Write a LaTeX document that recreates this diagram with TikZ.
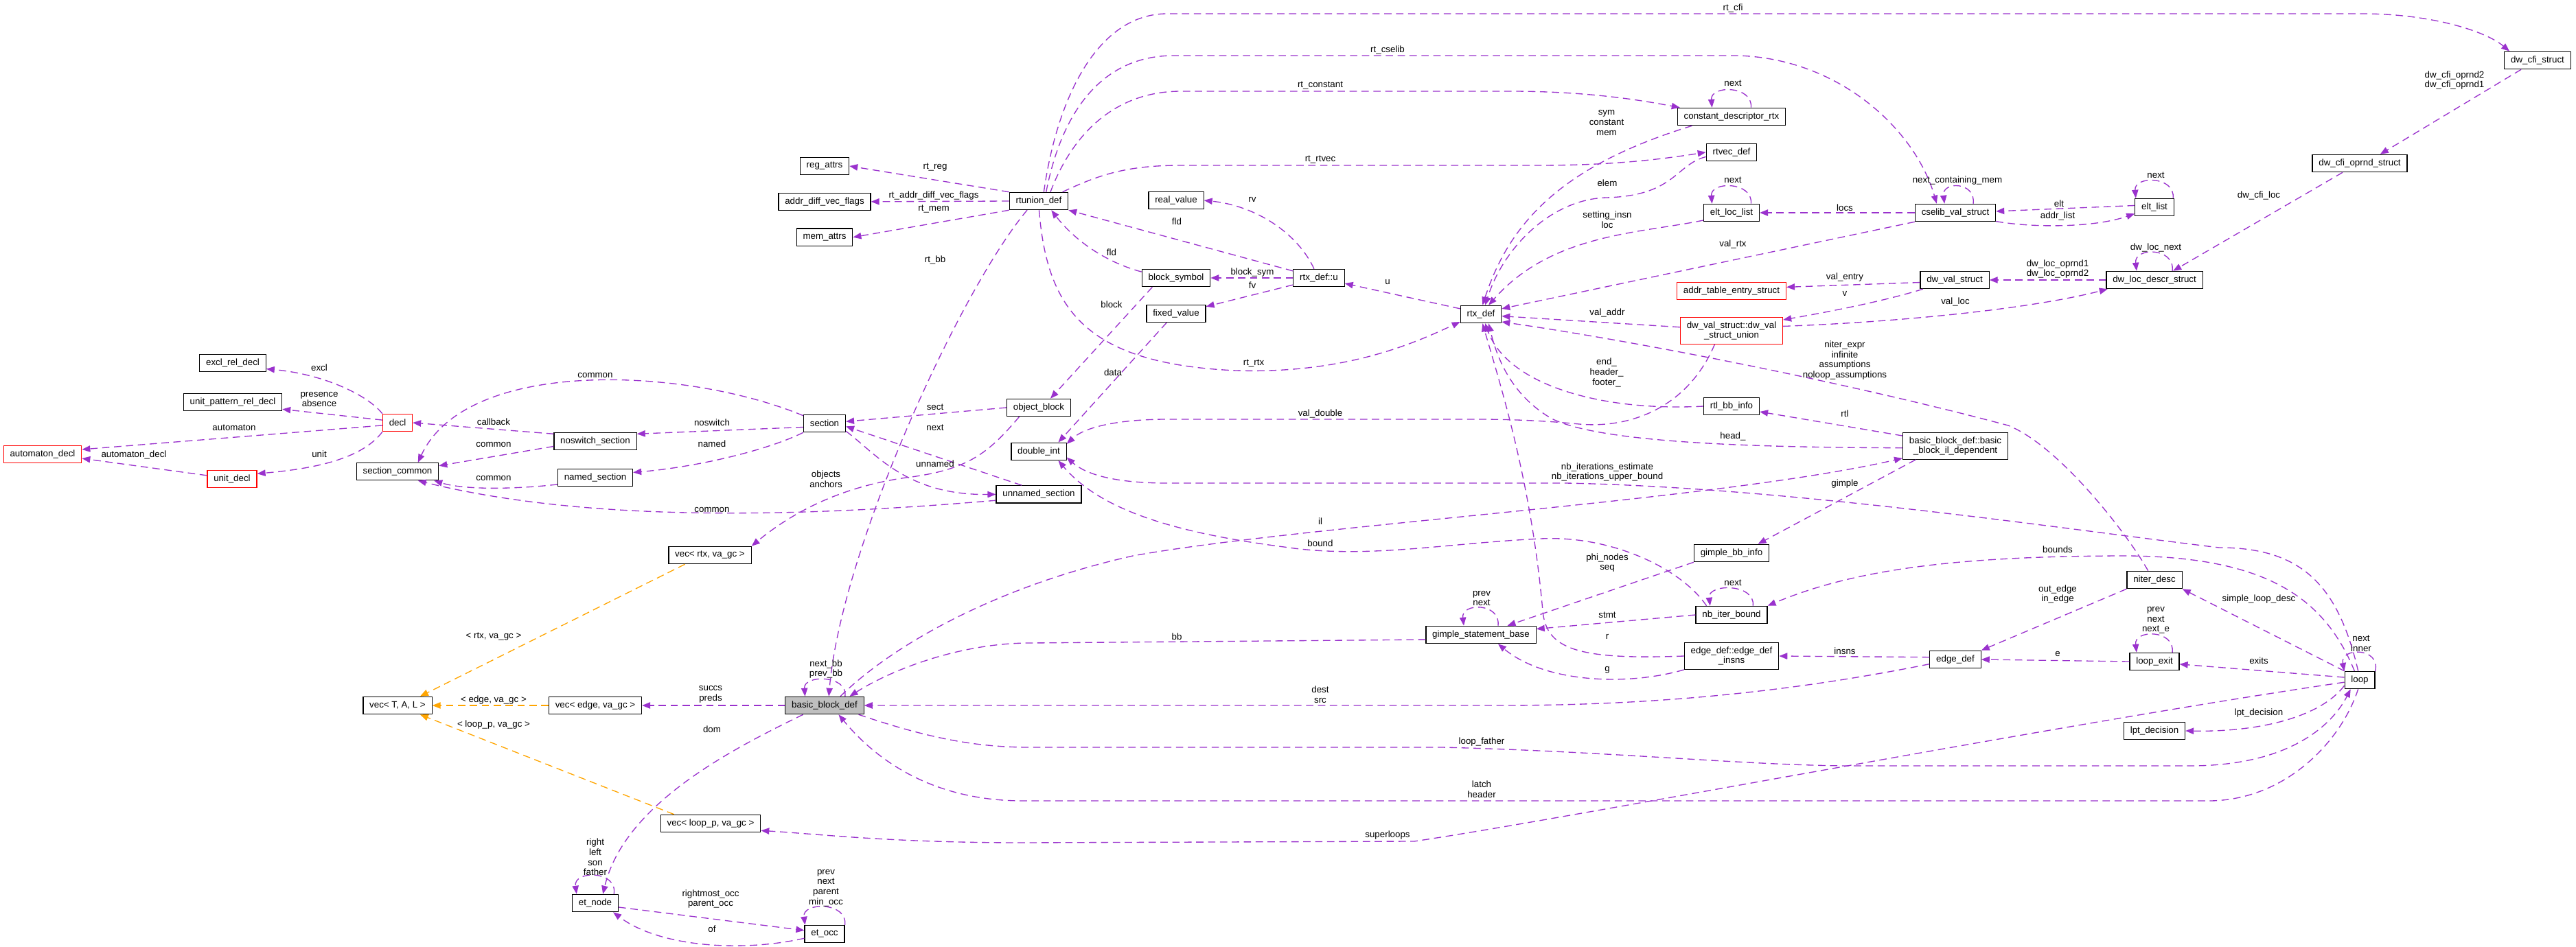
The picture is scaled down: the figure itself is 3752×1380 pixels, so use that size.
\documentclass[tikz,border=0pt]{standalone}
\usepackage{fontspec}
\setmainfont{Liberation Sans}
\usetikzlibrary{positioning,arrows.meta}
\definecolor{relpurple}{HTML}{9A32CD}
\definecolor{tplorange}{HTML}{FFA500}

\begin{document}
\begin{tikzpicture}[x=0.75pt, y=-0.75pt, font=\fontsize{10}{11}\selectfont, cls/.style={draw, line width=0.9pt, fill=white, minimum height=19pt, inner xsep=7pt, inner ysep=2pt}, clsred/.style={cls, draw=red}, clsfocus/.style={cls, fill=black!25}, cls2/.style={cls, align=center, minimum height=29pt}, rel/.style={draw=relpurple, line width=1pt, dash pattern=on 8pt off 5pt, -{Triangle[length=9pt,width=7pt]}}, tpl/.style={rel, draw=tplorange}, lbl/.style={align=center, inner sep=0pt}]
\useasboundingbox (0,0) rectangle (3752,1380);
\node[clsred] (automaton_decl) at (62,662) {automaton\_decl};
\node[cls] (excl_rel_decl) at (339,529) {excl\_rel\_decl};
\node[cls, below=23pt of excl_rel_decl] (unit_pattern_rel_decl) {unit\_pattern\_rel\_decl};
\node[clsred] (unit_decl) at (338,698) {unit\_decl};
\node[clsred] (decl) at (579,616) {decl};
\node[cls, below=33.5pt of decl] (section_common) {section\_common};
\node[cls] (vec_tal) at (579,1028) {vec< T, A, L >};
\node[cls] (noswitch_section) at (867,643) {noswitch\_section};
\node[cls, below=20pt of noswitch_section] (named_section) {named\_section};
\node[cls] (vec_edge) at (867,1028) {vec< edge, va\_gc >};
\node[cls] (et_node) at (867,1316) {et\_node};
\node[cls] (vec_rtx) at (1034,809) {vec< rtx, va\_gc >};
\node[cls] (vec_loop) at (1035,1200) {vec< loop\_p, va\_gc >};
\node[cls] (reg_attrs) at (1201,242) {reg\_attrs};
\node[cls, below=19pt of reg_attrs] (addr_diff_vec_flags) {addr\_diff\_vec\_flags};
\node[cls, below=19pt of addr_diff_vec_flags] (mem_attrs) {mem\_attrs};
\node[cls] (section) at (1201,617) {section};
\node[clsfocus] (basic_block_def) at (1201,1028) {basic\_block\_def};
\node[cls] (et_occ) at (1201,1361) {et\_occ};
\node[cls] (rtunion_def) at (1513,293) {rtunion\_def};
\node[cls] (object_block) at (1513,594) {object\_block};
\node[cls, below=28pt of object_block] (double_int) {double\_int};
\node[cls, below=27pt of double_int] (unnamed_section) {unnamed\_section};
\node[cls] (real_value) at (1713,292) {real\_value};
\node[cls] (block_symbol) at (1713,405) {block\_symbol};
\node[cls, below=19pt of block_symbol] (fixed_value) {fixed\_value};
\node[cls] (rtx_def_u) at (1921,405) {rtx\_def::u};
\node[cls] (rtx_def) at (2157,458) {rtx\_def};
\node[cls] (gimple_statement_base) at (2157,925) {gimple\_statement\_base};
\node[cls] (constant_descriptor_rtx) at (2522,170) {constant\_descriptor\_rtx};
\node[cls, below=19pt of constant_descriptor_rtx] (rtvec_def) {rtvec\_def};
\node[cls] (elt_loc_list) at (2522,310) {elt\_loc\_list};
\node[clsred] (addr_table_entry_struct) at (2522,424) {addr\_table\_entry\_struct};
\node[cls2, draw=red] (dw_val_union) at (2522,482) {dw\_val\_struct::dw\_val\\\_struct\_union};
\node[cls] (rtl_bb_info) at (2522,592) {rtl\_bb\_info};
\node[cls] (gimple_bb_info) at (2522,806) {gimple\_bb\_info};
\node[cls] (nb_iter_bound) at (2522,896) {nb\_iter\_bound};
\node[cls2] (edge_insns) at (2522,956) {edge\_def::edge\_def\\\_insns};
\node[cls] (cselib_val_struct) at (2848,310) {cselib\_val\_struct};
\node[cls] (dw_val_struct) at (2847,408) {dw\_val\_struct};
\node[cls2] (il_dep) at (2848,650) {basic\_block\_def::basic\\\_block\_il\_dependent};
\node[cls] (edge_def) at (2848,961) {edge\_def};
\node[cls] (elt_list) at (3138,302) {elt\_list};
\node[cls] (dw_loc_descr_struct) at (3138,408) {dw\_loc\_descr\_struct};
\node[cls] (niter_desc) at (3138,845) {niter\_desc};
\node[cls] (loop_exit) at (3138,964) {loop\_exit};
\node[cls] (lpt_decision) at (3138,1065) {lpt\_decision};
\node[cls] (dw_cfi_oprnd_struct) at (3437,238) {dw\_cfi\_oprnd\_struct};
\node[cls] (loop) at (3437,991) {loop};
\node[cls] (dw_cfi_struct) at (3696,88) {dw\_cfi\_struct};
\draw[rel] (rtunion_def.north west) -- (reg_attrs.east);
\draw[rel] (rtunion_def.west) -- (addr_diff_vec_flags.east);
\draw[rel] (rtunion_def.south west) -- (mem_attrs.east);
\draw[rel] (rtunion_def.-142) .. controls (1400,420) and (1225,800) .. (basic_block_def.65);
\draw[rel] (rtunion_def.-88) .. controls (1525,450) and (1580,530) .. (1800,540) .. controls (1960,545) and (2060,500) .. (rtx_def.-160);
\draw[rel] (rtunion_def.61) .. controls (1540,140) and (1600,20) .. (1700,20) -- (3440,20) .. controls (3540,20) and (3620,45) .. (dw_cfi_struct.162);
\draw[rel] (rtunion_def.51) .. controls (1545,170) and (1600,81) .. (1710,81) -- (2530,81) .. controls (2680,85) and (2790,190) .. (cselib_val_struct.154);
\draw[rel] (rtunion_def.38) .. controls (1560,200) and (1620,133) .. (1720,133) -- (2200,133) .. controls (2320,133) and (2400,148) .. (constant_descriptor_rtx.170);
\draw[rel] (rtunion_def.21) .. controls (1600,255) and (1640,241) .. (1720,241) -- (2240,241) .. controls (2350,241) and (2420,232) .. (rtvec_def.west);
\draw[rel] (rtx_def_u.118) .. controls (1890,340) and (1830,300) .. (real_value.east);
\draw[rel] (rtx_def_u.165) -- (rtunion_def.south east);
\draw[rel] (rtx_def_u.west) -- (block_symbol.east);
\draw[rel] (rtx_def_u.-165) -- (fixed_value.13);
\draw[rel] (block_symbol.170) .. controls (1610,382) and (1565,350) .. (rtunion_def.-36);
\draw[rel] (block_symbol.-159) -- (object_block.38);
\draw[rel] (fixed_value.-136) -- (double_int.25);
\draw[rel] (object_block.west) -- (section.5);
\draw[rel] (unnamed_section.152) -- (section.-8);
\draw[rel] (section.-20) .. controls (1275,660) and (1320,722) .. (unnamed_section.west);
\draw[rel] (object_block.-155) .. controls (1440,660) and (1410,685) .. (1320,696) .. controls (1220,710) and (1150,750) .. (vec_rtx.north east);
\draw[rel] (section.160) .. controls (1000,535) and (680,520) .. (section_common.24);
\draw[rel] (section.-170) -- (noswitch_section.10);
\draw[rel] (section.south west) .. controls (1120,655) and (1020,680) .. (named_section.8);
\draw[rel] (noswitch_section.170) -- (decl.east);
\draw[rel] (noswitch_section.-173) -- (section_common.8);
\draw[rel] (named_section.-170) .. controls (760,712) and (680,715) .. (section_common.-14);
\draw[rel] (unnamed_section.-172) .. controls (1150,755) and (850,760) .. (section_common.-24);
\draw[rel] (decl.north west) .. controls (535,575) and (470,545) .. (excl_rel_decl.-10);
\draw[rel] (decl.170) -- (unit_pattern_rel_decl.-8);
\draw[rel] (decl.-170) -- (automaton_decl.7);
\draw[rel] (unit_decl.172) -- (automaton_decl.-6);
\draw[rel] (decl.-149) .. controls (530,665) and (470,682) .. (unit_decl.12);
\draw[tpl] (vec_rtx.-160) -- (vec_tal.22);
\draw[tpl] (vec_edge.west) -- (vec_tal.east);
\draw[tpl] (vec_loop.166) -- (vec_tal.-22);
\draw[rel] (basic_block_def.west) -- (vec_edge.east);
\draw[rel] (basic_block_def.-157) .. controls (1070,1090) and (910,1170) .. (et_node.50);
\draw[rel] (et_node.-10) -- (et_occ.170);
\draw[rel] (et_occ.-168) .. controls (1080,1388) and (960,1380) .. (et_node.-27);
\draw[rel] (basic_block_def.24) .. controls (1235,983) and (1170,983) .. (basic_block_def.155);
\draw[rel] (et_node.26) .. controls (900,1268) and (835,1268) .. (et_node.154);
\draw[rel] (et_occ.24) .. controls (1235,1314) and (1168,1314) .. (et_occ.155);
\draw[rel] (constant_descriptor_rtx.25) .. controls (2553,124) and (2491,124) .. (constant_descriptor_rtx.155);
\draw[rel] (elt_loc_list.25) .. controls (2553,264) and (2491,264) .. (elt_loc_list.155);
\draw[rel] (cselib_val_struct.27) .. controls (2878,264) and (2828,264) .. (cselib_val_struct.140);
\draw[rel] (elt_list.26) .. controls (3168,256) and (3108,256) .. (elt_list.154);
\draw[rel] (dw_loc_descr_struct.27) .. controls (3168,360) and (3108,360) .. (dw_loc_descr_struct.153);
\draw[rel] (nb_iter_bound.23) .. controls (2557,850) and (2487,850) .. (nb_iter_bound.157);
\draw[rel] (gimple_statement_base.28) .. controls (2186,878) and (2128,878) .. (gimple_statement_base.152);
\draw[rel] (loop_exit.27) .. controls (3168,917) and (3108,917) .. (loop_exit.153);
\draw[rel] (loop.30) .. controls (3468,943) and (3408,943) .. (loop.150);
\draw[rel] (basic_block_def.30) .. controls (1300,940) and (1450,855) .. (1650,810) .. controls (1900,765) and (2500,730) .. (il_dep.-167);
\draw[rel] (gimple_statement_base.-175) -- (1500,937) .. controls (1400,937) and (1300,975) .. (basic_block_def.20);
\draw[rel] (basic_block_def.-15) .. controls (1350,1075) and (1420,1089) .. (1500,1089) -- (2100,1089) .. controls (2350,1095) and (2550,1116) .. (2700,1116) -- (3190,1116) .. controls (3330,1116) and (3395,1060) .. (loop.-135);
\draw[rel] (loop.-100) .. controls (3410,1080) and (3330,1165) .. (3220,1167) -- (1490,1167) .. controls (1350,1167) and (1270,1100) .. (basic_block_def.-33);
\draw[rel] (edge_def.-170) .. controls (2600,1010) and (2400,1028) .. (2184,1028) -- (basic_block_def.east);
\draw[rel] (loop.-172) .. controls (3000,1055) and (2300,1190) .. (2060,1226) -- (1490,1228) .. controls (1300,1228) and (1200,1216) .. (vec_loop.-8);
\draw[rel] (gimple_bb_info.south west) -- (gimple_statement_base.19);
\draw[rel] (nb_iter_bound.west) -- (gimple_statement_base.6);
\draw[rel] (nb_iter_bound.160) .. controls (2450,830) and (2350,780) .. (2244,785) .. controls (2100,792) and (1990,815) .. (1870,797) .. controls (1700,775) and (1600,740) .. (double_int.-25);
\draw[rel] (edge_insns.west) .. controls (2295,962) and (2252,945) .. (2247,890) .. controls (2230,700) and (2185,560) .. (rtx_def.-80);
\draw[rel] (edge_insns.south west) .. controls (2370,1000) and (2250,995) .. (gimple_statement_base.-28);
\draw[rel] (edge_def.175) -- (edge_insns.east);
\draw[rel] (dw_val_union.176) -- (rtx_def.-5);
\draw[rel] (dw_val_union.-141) .. controls (2460,590) and (2380,625) .. (2300,618) .. controls (2250,613) and (2200,611) .. (2150,611) -- (1700,611) .. controls (1630,611) and (1580,622) .. (double_int.15);
\draw[rel] (dw_val_union.5) .. controls (2750,470) and (2950,452) .. (dw_loc_descr_struct.-169);
\draw[rel] (dw_val_struct.-164) .. controls (2740,440) and (2660,455) .. (dw_val_union.12);
\draw[rel] (dw_val_struct.-176) -- (addr_table_entry_struct.4);
\draw[rel] (dw_loc_descr_struct.west) -- (dw_val_struct.east);
\draw[rel] (cselib_val_struct.west) -- (elt_loc_list.east);
\draw[rel] (cselib_val_struct.south west) -- (rtx_def.15);
\draw[rel] (elt_list.175) -- (cselib_val_struct.2);
\draw[rel] (cselib_val_struct.-12) .. controls (2960,332) and (3050,332) .. (elt_list.-162);
\draw[rel] (constant_descriptor_rtx.-167) .. controls (2280,240) and (2200,320) .. (rtx_def.80);
\draw[rel] (rtvec_def.-170) .. controls (2440,240) and (2440,285) .. (2340,288) .. controls (2260,290) and (2190,360) .. (rtx_def.65);
\draw[rel] (elt_loc_list.-165) .. controls (2390,340) and (2260,340) .. (rtx_def.50);
\draw[rel] (rtx_def.165) -- (rtx_def_u.-12);
\draw[rel] (il_dep.169) -- (rtl_bb_info.-11);
\draw[rel] (il_dep.-178) .. controls (2550,652) and (2330,645) .. (2260,610) .. controls (2200,575) and (2180,520) .. (rtx_def.-50);
\draw[rel] (rtl_bb_info.west) .. controls (2330,600) and (2195,560) .. (rtx_def.-65);
\draw[rel] (il_dep.-161) -- (gimple_bb_info.19);
\draw[rel] (niter_desc.125) .. controls (3100,780) and (3000,650) .. (2925,620) .. controls (2700,560) and (2400,500) .. (rtx_def.-20);
\draw[rel] (loop.north west) -- (niter_desc.south east);
\draw[rel] (loop.120) .. controls (3385,870) and (3300,812) .. (3100,810) .. controls (2850,810) and (2700,830) .. (nb_iter_bound.north east);
\draw[rel] (loop.100) .. controls (3405,850) and (3350,798) .. (3232,798) .. controls (3000,770) and (2600,710) .. (2280,704) -- (1700,704) .. controls (1620,704) and (1580,690) .. (double_int.-12);
\draw[rel] (niter_desc.south west) -- (edge_def.north east);
\draw[rel] (loop_exit.west) -- (edge_def.east);
\draw[rel] (loop.170) -- (loop_exit.-6);
\draw[rel] (loop.-160) .. controls (3380,1045) and (3290,1067) .. (lpt_decision.east);
\draw[rel] (dw_cfi_struct.-151) -- (dw_cfi_oprnd_struct.24);
\draw[rel] (dw_cfi_oprnd_struct.-152) -- (dw_loc_descr_struct.26);
\node[lbl] (l_rt_cfi) at (2524,12) {rt\_cfi};
\node[lbl] (l_rt_cselib) at (2021,73) {rt\_cselib};
\node[lbl] (l_rt_constant) at (1923,125) {rt\_constant};
\node[lbl] (l_cdr_next) at (2524,121) {next};
\node[lbl] (l_sym) at (2340,179) {sym\\constant\\mem};
\node[lbl] (l_rt_reg) at (1362,244) {rt\_reg};
\node[lbl] (l_rt_rtvec) at (1923,233) {rt\_rtvec};
\node[lbl] (l_rt_adv) at (1360,285) {rt\_addr\_diff\_vec\_flags};
\node[lbl] (l_rt_mem) at (1360,305) {rt\_mem};
\node[lbl] (l_elt_loc_next) at (2524,262) {next};
\node[lbl] (l_elem) at (2341,267) {elem};
\node[lbl] (l_ncm) at (2851,263) {next\_containing\_mem};
\node[lbl] (l_elt_list_next) at (3140,255) {next};
\node[lbl] (l_elt) at (2999,297) {elt};
\node[lbl] (l_addr_list) at (2997,315) {addr\_list};
\node[lbl] (l_locs) at (2687,303) {locs};
\node[lbl] (l_setting) at (2341,320) {setting\_insn\\loc};
\node[lbl] (l_cfi_oprnd) at (3575,117) {dw\_cfi\_oprnd2\\dw\_cfi\_oprnd1};
\node[lbl] (l_cfi_loc) at (3290,285) {dw\_cfi\_loc};
\node[lbl] (l_rv) at (1824,291) {rv};
\node[lbl] (l_fld_u) at (1714,323) {fld};
\node[lbl] (l_fld_bs) at (1619,368) {fld};
\node[lbl] (l_val_rtx) at (2524,356) {val\_rtx};
\node[lbl] (l_dw_loc_next) at (3140,361) {dw\_loc\_next};
\node[lbl] (l_rt_bb) at (1362,379) {rt\_bb};
\node[lbl] (l_loc_oprnd) at (2997,392) {dw\_loc\_oprnd1\\dw\_loc\_oprnd2};
\node[lbl] (l_block_sym) at (1824,397) {block\_sym};
\node[lbl] (l_val_entry) at (2687,404) {val\_entry};
\node[lbl] (l_u) at (2021,411) {u};
\node[lbl] (l_fv) at (1824,416) {fv};
\node[lbl] (l_v) at (2687,428) {v};
\node[lbl] (l_val_loc) at (2848,440) {val\_loc};
\node[lbl] (l_block) at (1619,444) {block};
\node[lbl] (l_val_addr) at (2341,456) {val\_addr};
\node[lbl] (l_niter) at (2687,525) {niter\_expr\\infinite\\assumptions\\noloop\_assumptions};
\node[lbl] (l_rt_rtx) at (1826,530) {rt\_rtx};
\node[lbl] (l_excl) at (465,536) {excl};
\node[lbl] (l_end) at (2340,543) {end\_\\header\_\\footer\_};
\node[lbl] (l_data) at (1621,543) {data};
\node[lbl] (l_common_sec) at (867,547) {common};
\node[lbl] (l_presence) at (465,582) {presence\\absence};
\node[lbl] (l_sect) at (1362,593) {sect};
\node[lbl] (l_val_double) at (1923,603) {val\_double};
\node[lbl] (l_rtl) at (2687,603) {rtl};
\node[lbl] (l_callback) at (719,615) {callback};
\node[lbl] (l_noswitch) at (1037,616) {noswitch};
\node[lbl] (l_automaton) at (341,623) {automaton};
\node[lbl] (l_next_sec) at (1362,623) {next};
\node[lbl] (l_head) at (2524,636) {head\_};
\node[lbl] (l_named) at (1037,647) {named};
\node[lbl] (l_common_ns) at (719,648) {common};
\node[lbl] (l_unit) at (465,662) {unit};
\node[lbl] (l_automaton_decl) at (195,663) {automaton\_decl};
\node[lbl] (l_unnamed) at (1362,676) {unnamed};
\node[lbl] (l_nb_iter) at (2341,688) {nb\_iterations\_estimate\\nb\_iterations\_upper\_bound};
\node[lbl] (l_objects) at (1203,698) {objects\\anchors};
\node[lbl] (l_common_named) at (719,697) {common};
\node[lbl] (l_gimple) at (2687,705) {gimple};
\node[lbl] (l_common_un) at (1037,743) {common};
\node[lbl] (l_il) at (1923,760) {il};
\node[lbl] (l_bound) at (1923,792) {bound};
\node[lbl] (l_bounds) at (2997,801) {bounds};
\node[lbl] (l_phi) at (2341,820) {phi\_nodes\\seq};
\node[lbl] (l_nib_next) at (2524,849) {next};
\node[lbl] (l_out_edge) at (2997,866) {out\_edge\\in\_edge};
\node[lbl] (l_sld) at (3290,873) {simple\_loop\_desc};
\node[lbl] (l_gsb_prev) at (2158,872) {prev\\next};
\node[lbl] (l_stmt) at (2341,896) {stmt};
\node[lbl] (l_exit_prev) at (3140,904) {prev\\next\\next\_e};
\node[lbl] (l_rtx_tpl) at (719,928) {< rtx, va\_gc >};
\node[lbl] (l_bb) at (1714,928) {bb};
\node[lbl] (l_r) at (2341,928) {r};
\node[lbl] (l_loop_next) at (3439,938) {next\\inner};
\node[lbl] (l_insns) at (2687,949) {insns};
\node[lbl] (l_e) at (2997,953) {e};
\node[lbl] (l_exits) at (3290,963) {exits};
\node[lbl] (l_next_bb) at (1203,975) {next\_bb\\prev\_bb};
\node[lbl] (l_g) at (2341,976) {g};
\node[lbl] (l_dest) at (1923,1012) {dest\\src};
\node[lbl] (l_succs) at (1035,1012) {succs\\preds};
\node[lbl] (l_edge_tpl) at (719,1020) {< edge, va\_gc >};
\node[lbl] (l_lpt) at (3290,1039) {lpt\_decision};
\node[lbl] (l_loop_tpl) at (719,1056) {< loop\_p, va\_gc >};
\node[lbl] (l_dom) at (1037,1063) {dom};
\node[lbl] (l_loop_father) at (2158,1081) {loop\_father};
\node[lbl] (l_latch) at (2158,1150) {latch\\header};
\node[lbl] (l_superloops) at (2021,1217) {superloops};
\node[lbl] (l_et_node) at (867,1249) {right\\left\\son\\father};
\node[lbl] (l_et_occ) at (1203,1294) {prev\\next\\parent\\min\_occ};
\node[lbl] (l_rightmost) at (1035,1310) {rightmost\_occ\\parent\_occ};
\node[lbl] (l_of) at (1037,1354) {of};
\end{tikzpicture}
\end{document}
